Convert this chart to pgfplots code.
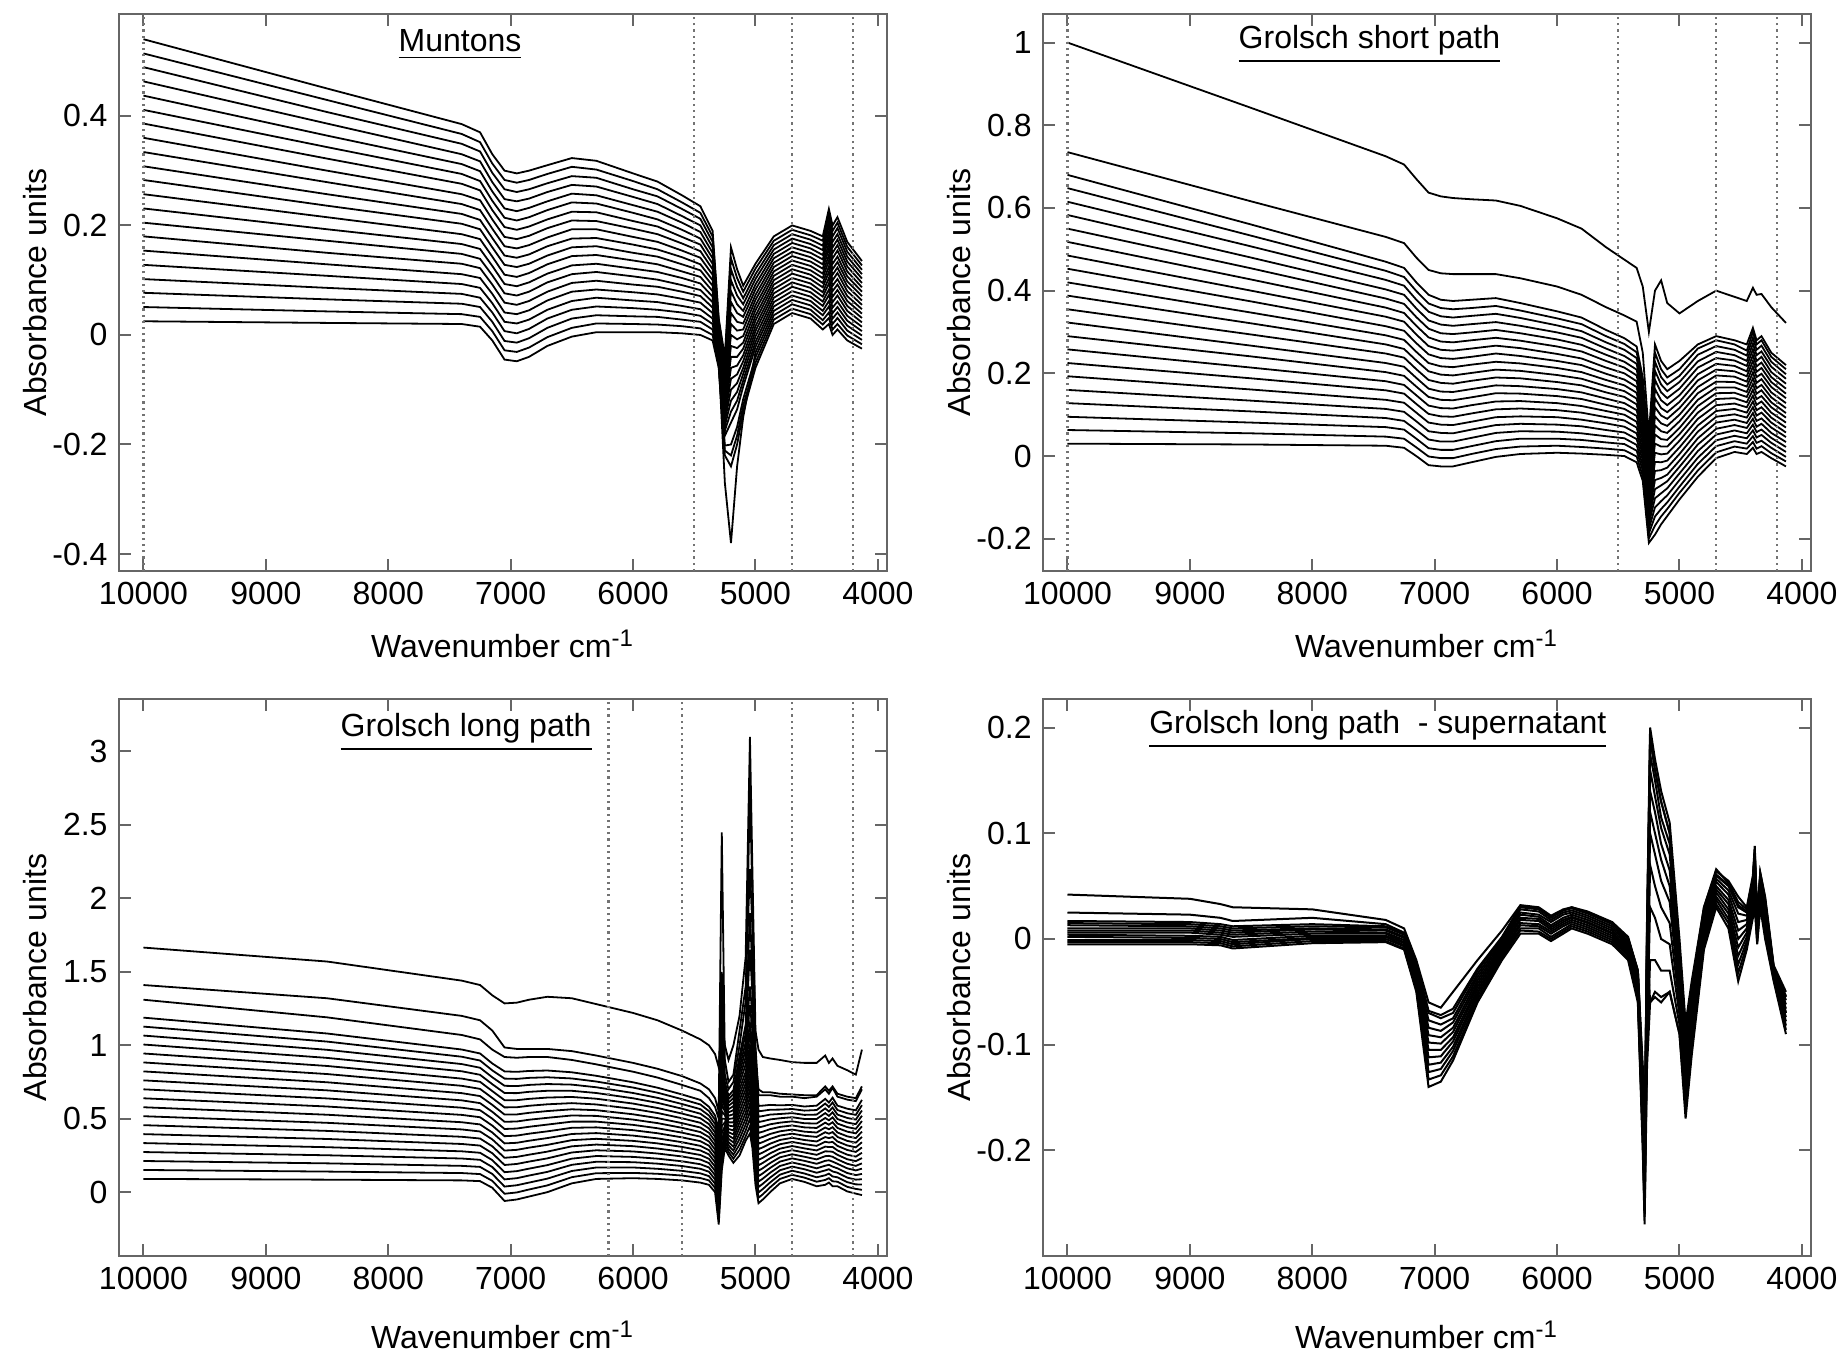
\documentclass[border=0pt]{standalone}
\usepackage{fontspec}
\setmainfont{Liberation Sans}
\usepackage{pgfplots}
\usepackage{pgfplotstable}
\pgfplotsset{compat=1.18}

% spectra, one column per sample; x = wavenumber (cm^-1)
\pgfplotstableread{
x w0 w05 w1 w15 w2 w3 w4 w5 w6 w7 w8 w9 w10
10000 0.025 0.051 0.077 0.102 0.128 0.180 0.231 0.283 0.334 0.386 0.437 0.489 0.540
8500 0.022 0.043 0.065 0.086 0.108 0.150 0.193 0.236 0.279 0.322 0.364 0.407 0.450
7400 0.020 0.038 0.057 0.075 0.093 0.130 0.166 0.203 0.239 0.276 0.312 0.349 0.385
7250 0.015 0.033 0.051 0.068 0.086 0.122 0.157 0.193 0.228 0.264 0.299 0.335 0.370
7150 -0.010 0.007 0.024 0.041 0.058 0.092 0.126 0.160 0.194 0.228 0.262 0.296 0.330
7050 -0.045 -0.028 -0.011 0.007 0.024 0.059 0.093 0.128 0.162 0.197 0.231 0.266 0.300
6950 -0.048 -0.031 -0.014 0.003 0.021 0.055 0.089 0.124 0.158 0.192 0.226 0.261 0.295
6850 -0.040 -0.023 -0.006 0.011 0.028 0.062 0.096 0.130 0.164 0.198 0.232 0.266 0.300
6700 -0.020 -0.004 0.013 0.030 0.046 0.079 0.112 0.145 0.178 0.211 0.244 0.277 0.310
6500 -0.003 0.013 0.030 0.046 0.062 0.095 0.127 0.160 0.193 0.225 0.258 0.290 0.323
6300 0.005 0.021 0.036 0.052 0.068 0.099 0.130 0.162 0.193 0.224 0.255 0.287 0.318
6000 0.005 0.020 0.034 0.049 0.063 0.092 0.121 0.150 0.179 0.208 0.237 0.266 0.295
5800 0.005 0.019 0.033 0.046 0.060 0.088 0.115 0.143 0.170 0.198 0.225 0.253 0.280
5600 0.003 0.016 0.028 0.041 0.053 0.079 0.104 0.129 0.154 0.179 0.205 0.230 0.255
5450 0.000 0.012 0.024 0.035 0.047 0.071 0.094 0.118 0.141 0.165 0.188 0.212 0.235
5350 -0.010 0.000 0.010 0.020 0.030 0.050 0.070 0.090 0.110 0.130 0.150 0.170 0.190
5300 -0.060 -0.056 -0.051 -0.047 -0.042 -0.033 -0.024 -0.015 -0.006 0.003 0.012 0.021 0.030
5250 -0.220 -0.211 -0.202 -0.270 -0.184 -0.166 -0.148 -0.130 -0.112 -0.094 -0.076 -0.058 -0.040
5200 -0.240 -0.220 -0.200 -0.380 -0.160 -0.120 -0.080 -0.040 0.000 0.040 0.080 0.120 0.160
5150 -0.200 -0.184 -0.168 -0.240 -0.136 -0.104 -0.072 -0.040 -0.008 0.024 0.056 0.088 0.120
5100 -0.140 -0.129 -0.117 -0.150 -0.094 -0.071 -0.048 -0.025 -0.002 0.021 0.044 0.067 0.090
5000 -0.060 -0.051 -0.041 -0.032 -0.022 -0.003 0.016 0.035 0.054 0.073 0.092 0.111 0.130
4850 0.020 0.028 0.036 0.044 0.052 0.068 0.084 0.100 0.116 0.132 0.148 0.164 0.180
4700 0.040 0.048 0.056 0.064 0.072 0.088 0.104 0.120 0.136 0.152 0.168 0.184 0.200
4550 0.030 0.038 0.046 0.054 0.062 0.078 0.094 0.110 0.126 0.142 0.158 0.174 0.190
4450 0.010 0.019 0.027 0.036 0.044 0.061 0.078 0.095 0.112 0.129 0.146 0.163 0.180
4400 0.020 0.031 0.041 0.052 0.062 0.083 0.104 0.125 0.146 0.167 0.188 0.209 0.230
4370 0.000 0.010 0.020 0.030 0.040 0.060 0.080 0.100 0.120 0.140 0.160 0.180 0.200
4330 0.010 0.020 0.031 0.041 0.051 0.072 0.092 0.113 0.133 0.154 0.174 0.195 0.215
4250 -0.010 -0.001 0.008 0.017 0.026 0.044 0.062 0.080 0.098 0.116 0.134 0.152 0.170
4130 -0.025 -0.017 -0.009 -0.001 0.007 0.023 0.039 0.055 0.071 0.087 0.103 0.119 0.135
}\muntons

\pgfplotstableread{
x m25 m35 m45 m55 m65 m75 m85 m95
10000 0.154 0.205 0.257 0.308 0.360 0.411 0.463 0.514
8500 0.129 0.172 0.215 0.257 0.300 0.343 0.386 0.429
7400 0.111 0.148 0.184 0.221 0.257 0.294 0.330 0.367
7250 0.104 0.139 0.175 0.210 0.246 0.281 0.317 0.352
7150 0.075 0.109 0.143 0.177 0.211 0.245 0.279 0.313
7050 0.041 0.076 0.110 0.145 0.179 0.214 0.248 0.283
6950 0.038 0.072 0.106 0.141 0.175 0.209 0.244 0.278
6850 0.045 0.079 0.113 0.147 0.181 0.215 0.249 0.283
6700 0.063 0.096 0.129 0.162 0.195 0.228 0.261 0.294
6500 0.079 0.111 0.144 0.176 0.209 0.242 0.274 0.307
6300 0.083 0.115 0.146 0.177 0.208 0.240 0.271 0.302
6000 0.078 0.107 0.136 0.165 0.194 0.223 0.252 0.281
5800 0.074 0.101 0.129 0.156 0.184 0.211 0.239 0.266
5600 0.066 0.091 0.116 0.142 0.167 0.192 0.217 0.242
5450 0.059 0.082 0.106 0.129 0.153 0.176 0.200 0.223
5350 0.040 0.060 0.080 0.100 0.120 0.140 0.160 0.180
5300 -0.038 -0.029 -0.020 -0.011 -0.002 0.008 0.017 0.026
5250 -0.175 -0.157 -0.139 -0.121 -0.103 -0.085 -0.067 -0.049
5200 -0.140 -0.100 -0.060 -0.020 0.020 0.060 0.100 0.140
5150 -0.120 -0.088 -0.056 -0.024 0.008 0.040 0.072 0.104
5100 -0.083 -0.060 -0.037 -0.014 0.010 0.033 0.056 0.079
5000 -0.013 0.007 0.026 0.045 0.064 0.083 0.102 0.121
4850 0.060 0.076 0.092 0.108 0.124 0.140 0.156 0.172
4700 0.080 0.096 0.112 0.128 0.144 0.160 0.176 0.192
4550 0.070 0.086 0.102 0.118 0.134 0.150 0.166 0.182
4450 0.053 0.070 0.087 0.104 0.121 0.138 0.155 0.172
4400 0.073 0.094 0.115 0.136 0.157 0.178 0.199 0.220
4370 0.050 0.070 0.090 0.110 0.130 0.150 0.170 0.190
4330 0.061 0.082 0.102 0.123 0.143 0.164 0.184 0.205
4250 0.035 0.053 0.071 0.089 0.107 0.125 0.143 0.161
4130 0.015 0.031 0.047 0.063 0.079 0.095 0.111 0.127
}\muntonsB

\pgfplotstableread{
x w0 w05 w1 w15 w2 w3 w4 w5 w6 w7 w8 w9 w10 o1 o2
10000 0.030 0.063 0.095 0.128 0.160 0.225 0.290 0.355 0.420 0.485 0.550 0.615 0.680 1.000 0.735
8500 0.028 0.055 0.081 0.108 0.134 0.188 0.241 0.294 0.347 0.400 0.454 0.507 0.560 0.842 0.616
7400 0.025 0.047 0.070 0.092 0.114 0.159 0.203 0.248 0.292 0.337 0.381 0.426 0.470 0.725 0.530
7250 0.020 0.042 0.064 0.085 0.107 0.151 0.194 0.238 0.281 0.325 0.368 0.412 0.455 0.705 0.515
7150 0.000 0.021 0.042 0.063 0.084 0.126 0.168 0.210 0.252 0.294 0.336 0.378 0.420 0.670 0.480
7050 -0.022 -0.001 0.019 0.040 0.060 0.102 0.143 0.184 0.225 0.266 0.308 0.349 0.390 0.637 0.450
6950 -0.025 -0.005 0.015 0.035 0.056 0.096 0.136 0.177 0.217 0.257 0.297 0.338 0.378 0.628 0.442
6850 -0.025 -0.005 0.015 0.035 0.055 0.095 0.135 0.175 0.215 0.255 0.295 0.335 0.375 0.624 0.440
6700 -0.015 0.005 0.024 0.044 0.064 0.103 0.142 0.182 0.221 0.260 0.299 0.339 0.378 0.621 0.440
6500 -0.002 0.017 0.036 0.056 0.075 0.113 0.152 0.190 0.228 0.267 0.305 0.344 0.382 0.618 0.440
6300 0.005 0.023 0.042 0.060 0.078 0.115 0.151 0.188 0.224 0.261 0.297 0.334 0.370 0.605 0.430
6000 0.008 0.025 0.042 0.059 0.076 0.111 0.145 0.179 0.213 0.247 0.282 0.316 0.350 0.575 0.410
5800 0.006 0.022 0.039 0.055 0.072 0.105 0.138 0.171 0.203 0.236 0.269 0.302 0.335 0.550 0.390
5600 0.003 0.018 0.033 0.048 0.063 0.094 0.124 0.154 0.184 0.214 0.245 0.275 0.305 0.505 0.360
5450 0.000 0.014 0.029 0.043 0.057 0.086 0.114 0.143 0.171 0.200 0.228 0.257 0.285 0.475 0.340
5350 -0.015 -0.001 0.013 0.027 0.041 0.069 0.097 0.125 0.153 0.181 0.209 0.237 0.265 0.455 0.325
5300 -0.060 -0.048 -0.035 -0.023 -0.010 0.015 0.040 0.065 0.090 0.115 0.140 0.165 0.190 0.410 0.250
5250 -0.210 -0.199 -0.187 -0.176 -0.164 -0.141 -0.118 -0.095 -0.072 -0.049 -0.026 -0.003 0.020 0.300 0.050
5200 -0.190 -0.168 -0.146 -0.124 -0.102 -0.058 -0.014 0.030 0.074 0.118 0.162 0.206 0.250 0.400 0.270
5150 -0.165 -0.146 -0.128 -0.109 -0.090 -0.053 -0.015 0.023 0.060 0.098 0.135 0.173 0.210 0.425 0.230
5100 -0.145 -0.128 -0.112 -0.095 -0.078 -0.045 -0.011 0.023 0.056 0.090 0.123 0.157 0.190 0.370 0.210
5000 -0.105 -0.089 -0.074 -0.058 -0.042 -0.011 0.021 0.053 0.084 0.116 0.147 0.179 0.210 0.345 0.230
4850 -0.050 -0.035 -0.019 -0.004 0.012 0.043 0.074 0.105 0.136 0.167 0.198 0.229 0.260 0.375 0.270
4700 -0.005 0.009 0.024 0.038 0.052 0.081 0.109 0.138 0.166 0.195 0.223 0.252 0.280 0.400 0.290
4550 0.010 0.023 0.036 0.049 0.062 0.088 0.114 0.140 0.166 0.192 0.218 0.244 0.270 0.385 0.280
4450 0.005 0.018 0.030 0.043 0.055 0.080 0.105 0.130 0.155 0.180 0.205 0.230 0.255 0.375 0.270
4400 0.020 0.034 0.048 0.062 0.076 0.104 0.132 0.160 0.188 0.216 0.244 0.272 0.300 0.407 0.310
4370 0.005 0.018 0.032 0.045 0.058 0.085 0.111 0.138 0.164 0.191 0.217 0.244 0.270 0.390 0.280
4330 0.010 0.024 0.037 0.051 0.064 0.091 0.118 0.145 0.172 0.199 0.226 0.253 0.280 0.392 0.290
4250 -0.005 0.007 0.020 0.032 0.044 0.069 0.093 0.118 0.142 0.167 0.191 0.216 0.240 0.360 0.250
4130 -0.025 -0.013 -0.002 0.010 0.022 0.046 0.069 0.093 0.116 0.140 0.163 0.187 0.210 0.322 0.220
}\shortpath

\pgfplotstableread{
x m25 m35 m45 m55 m65 m75 m85 m95
10000 0.193 0.258 0.323 0.388 0.453 0.518 0.583 0.648
8500 0.161 0.214 0.267 0.321 0.374 0.427 0.480 0.533
7400 0.136 0.181 0.225 0.270 0.314 0.359 0.403 0.448
7250 0.129 0.172 0.216 0.259 0.303 0.346 0.390 0.433
7150 0.105 0.147 0.189 0.231 0.273 0.315 0.357 0.399
7050 0.081 0.122 0.163 0.205 0.246 0.287 0.328 0.369
6950 0.076 0.116 0.156 0.197 0.237 0.277 0.318 0.358
6850 0.075 0.115 0.155 0.195 0.235 0.275 0.315 0.355
6700 0.083 0.123 0.162 0.201 0.240 0.280 0.319 0.358
6500 0.094 0.132 0.171 0.209 0.248 0.286 0.324 0.363
6300 0.096 0.133 0.169 0.206 0.242 0.279 0.315 0.352
6000 0.094 0.128 0.162 0.196 0.230 0.265 0.299 0.333
5800 0.088 0.121 0.154 0.187 0.220 0.253 0.286 0.319
5600 0.079 0.109 0.139 0.169 0.199 0.230 0.260 0.290
5450 0.071 0.100 0.128 0.157 0.185 0.214 0.242 0.271
5350 0.055 0.083 0.111 0.139 0.167 0.195 0.223 0.251
5300 0.003 0.028 0.053 0.078 0.103 0.128 0.153 0.178
5250 -0.153 -0.130 -0.107 -0.084 -0.061 -0.038 -0.015 0.009
5200 -0.080 -0.036 0.008 0.052 0.096 0.140 0.184 0.228
5150 -0.071 -0.034 0.004 0.041 0.079 0.116 0.154 0.191
5100 -0.061 -0.028 0.006 0.039 0.073 0.106 0.140 0.173
5000 -0.026 0.005 0.037 0.068 0.100 0.131 0.163 0.194
4850 0.028 0.059 0.090 0.121 0.152 0.183 0.214 0.245
4700 0.066 0.095 0.123 0.152 0.180 0.209 0.237 0.266
4550 0.075 0.101 0.127 0.153 0.179 0.205 0.231 0.257
4450 0.068 0.093 0.118 0.143 0.168 0.193 0.218 0.243
4400 0.090 0.118 0.146 0.174 0.202 0.230 0.258 0.286
4370 0.071 0.098 0.124 0.151 0.177 0.204 0.230 0.257
4330 0.078 0.105 0.132 0.159 0.186 0.213 0.240 0.267
4250 0.056 0.081 0.105 0.130 0.154 0.179 0.203 0.228
4130 0.034 0.057 0.081 0.104 0.128 0.151 0.175 0.198
}\shortpathB

\pgfplotstableread{
x w0 w05 w1 w2 w3 w4 w5 w6 w7 w8 w9 w10 o1 o2
10000 0.090 0.151 0.212 0.334 0.456 0.578 0.700 0.822 0.944 1.066 1.188 1.310 1.665 1.410
8500 0.085 0.140 0.196 0.306 0.417 0.527 0.638 0.748 0.859 0.969 1.080 1.190 1.570 1.320
7400 0.080 0.130 0.179 0.278 0.377 0.476 0.575 0.674 0.773 0.872 0.971 1.070 1.440 1.200
7250 0.075 0.123 0.172 0.268 0.365 0.461 0.558 0.654 0.751 0.847 0.944 1.040 1.410 1.170
7150 0.030 0.077 0.124 0.218 0.312 0.406 0.500 0.594 0.688 0.782 0.876 0.970 1.340 1.100
7050 -0.060 -0.011 0.038 0.136 0.234 0.332 0.430 0.528 0.626 0.724 0.822 0.920 1.285 0.985
6950 -0.050 -0.002 0.047 0.143 0.240 0.336 0.433 0.529 0.626 0.722 0.819 0.915 1.290 0.975
6850 -0.030 0.018 0.065 0.160 0.255 0.350 0.445 0.540 0.635 0.730 0.825 0.920 1.310 0.975
6700 0.000 0.046 0.092 0.184 0.276 0.368 0.460 0.552 0.644 0.736 0.828 0.920 1.330 0.975
6500 0.060 0.102 0.144 0.228 0.312 0.396 0.480 0.564 0.648 0.732 0.816 0.900 1.320 0.960
6300 0.090 0.129 0.168 0.246 0.324 0.402 0.480 0.558 0.636 0.714 0.792 0.870 1.280 0.930
6000 0.095 0.131 0.168 0.240 0.313 0.385 0.458 0.530 0.603 0.675 0.748 0.820 1.220 0.880
5800 0.090 0.125 0.159 0.228 0.297 0.366 0.435 0.504 0.573 0.642 0.711 0.780 1.170 0.840
5600 0.080 0.113 0.145 0.210 0.275 0.340 0.405 0.470 0.535 0.600 0.665 0.730 1.100 0.790
5450 0.065 0.096 0.128 0.190 0.253 0.315 0.378 0.440 0.503 0.565 0.628 0.690 1.040 0.740
5380 0.050 0.080 0.109 0.168 0.227 0.286 0.345 0.404 0.463 0.522 0.581 0.640 1.000 0.700
5330 0.000 0.029 0.058 0.116 0.174 0.232 0.290 0.348 0.406 0.464 0.522 0.580 0.940 0.640
5300 -0.220 -0.184 -0.148 -0.076 -0.004 0.068 0.140 0.212 0.284 0.356 0.428 0.500 0.850 0.550
5275 0.150 0.200 0.250 0.300 0.400 0.500 0.600 0.700 0.800 0.950 1.150 1.500 1.200 2.450
5250 0.300 0.325 0.350 0.400 0.450 0.500 0.550 0.600 0.650 0.700 0.750 0.800 1.000 0.900
5220 0.250 0.273 0.295 0.340 0.385 0.430 0.475 0.520 0.565 0.610 0.655 0.700 0.900 0.750
5180 0.200 0.228 0.255 0.310 0.365 0.420 0.475 0.530 0.585 0.640 0.695 0.750 1.000 0.800
5130 0.250 0.288 0.325 0.400 0.475 0.550 0.625 0.700 0.775 0.850 0.925 1.000 1.200 1.100
5080 0.350 0.380 0.420 0.500 0.580 0.660 0.740 0.820 0.920 1.020 1.140 1.300 1.600 1.400
5045 0.400 0.450 0.500 0.600 0.700 0.800 0.900 1.000 1.150 1.400 1.900 2.750 3.100 2.200
5025 0.300 0.350 0.400 0.500 0.600 0.700 0.800 0.900 1.000 1.200 1.500 2.000 2.200 1.800
5000 0.050 0.098 0.145 0.240 0.335 0.430 0.525 0.620 0.715 0.810 0.905 1.000 1.100 0.900
4975 -0.075 -0.038 -0.002 0.072 0.146 0.219 0.293 0.366 0.440 0.513 0.587 0.660 0.970 0.700
4940 -0.050 -0.015 0.021 0.092 0.163 0.234 0.305 0.376 0.447 0.518 0.589 0.660 0.920 0.680
4880 0.000 0.033 0.066 0.132 0.198 0.264 0.330 0.396 0.462 0.528 0.594 0.660 0.910 0.680
4800 0.060 0.090 0.119 0.178 0.237 0.296 0.355 0.414 0.473 0.532 0.591 0.650 0.900 0.670
4700 0.090 0.118 0.146 0.202 0.258 0.314 0.370 0.426 0.482 0.538 0.594 0.650 0.885 0.665
4600 0.070 0.099 0.127 0.184 0.241 0.298 0.355 0.412 0.469 0.526 0.583 0.640 0.880 0.660
4500 0.040 0.071 0.101 0.162 0.223 0.284 0.345 0.406 0.467 0.528 0.589 0.650 0.880 0.660
4430 0.050 0.083 0.115 0.180 0.245 0.310 0.375 0.440 0.505 0.570 0.635 0.700 0.930 0.720
4400 0.065 0.095 0.126 0.186 0.247 0.307 0.368 0.428 0.489 0.549 0.610 0.670 0.880 0.690
4370 0.040 0.074 0.107 0.174 0.241 0.308 0.375 0.442 0.509 0.576 0.643 0.710 0.910 0.720
4330 0.040 0.071 0.101 0.162 0.223 0.284 0.345 0.406 0.467 0.528 0.589 0.650 0.860 0.670
4250 0.005 0.036 0.068 0.130 0.193 0.255 0.318 0.380 0.443 0.505 0.568 0.630 0.830 0.650
4180 -0.010 0.022 0.053 0.116 0.179 0.242 0.305 0.368 0.431 0.494 0.557 0.620 0.800 0.640
4130 -0.020 0.016 0.052 0.124 0.196 0.268 0.340 0.412 0.484 0.556 0.628 0.700 0.970 0.720
}\longpath

\pgfplotstableread{
x m15 m25 m35 m45 m55 m65 m75 m85
10000 0.273 0.395 0.517 0.639 0.761 0.883 1.005 1.127
8500 0.251 0.362 0.472 0.583 0.693 0.804 0.914 1.025
7400 0.229 0.328 0.427 0.526 0.625 0.724 0.823 0.922
7250 0.220 0.317 0.413 0.510 0.606 0.703 0.799 0.896
7150 0.171 0.265 0.359 0.453 0.547 0.641 0.735 0.829
7050 0.087 0.185 0.283 0.381 0.479 0.577 0.675 0.773
6950 0.095 0.192 0.288 0.385 0.481 0.578 0.674 0.771
6850 0.113 0.208 0.303 0.398 0.493 0.588 0.683 0.778
6700 0.138 0.230 0.322 0.414 0.506 0.598 0.690 0.782
6500 0.186 0.270 0.354 0.438 0.522 0.606 0.690 0.774
6300 0.207 0.285 0.363 0.441 0.519 0.597 0.675 0.753
6000 0.204 0.277 0.349 0.422 0.494 0.567 0.639 0.712
5800 0.194 0.263 0.332 0.401 0.470 0.539 0.608 0.677
5600 0.178 0.243 0.308 0.373 0.438 0.503 0.568 0.633
5450 0.159 0.222 0.284 0.347 0.409 0.472 0.534 0.597
5380 0.139 0.198 0.257 0.316 0.375 0.434 0.493 0.552
5330 0.087 0.145 0.203 0.261 0.319 0.377 0.435 0.493
5300 -0.112 -0.040 0.032 0.104 0.176 0.248 0.320 0.392
5275 0.275 0.350 0.450 0.550 0.650 0.750 0.875 1.050
5250 0.375 0.425 0.475 0.525 0.575 0.625 0.675 0.725
5220 0.318 0.363 0.408 0.453 0.498 0.543 0.588 0.633
5180 0.283 0.338 0.393 0.448 0.503 0.558 0.613 0.668
5130 0.363 0.438 0.513 0.588 0.663 0.738 0.813 0.888
5080 0.460 0.540 0.620 0.700 0.780 0.870 0.970 1.080
5045 0.550 0.650 0.750 0.850 0.950 1.075 1.275 1.650
5025 0.450 0.550 0.650 0.750 0.850 0.950 1.100 1.350
5000 0.193 0.288 0.383 0.478 0.573 0.668 0.763 0.858
4975 0.035 0.109 0.183 0.256 0.330 0.403 0.477 0.550
4940 0.057 0.128 0.199 0.270 0.341 0.412 0.483 0.554
4880 0.099 0.165 0.231 0.297 0.363 0.429 0.495 0.561
4800 0.149 0.208 0.267 0.326 0.385 0.444 0.503 0.562
4700 0.174 0.230 0.286 0.342 0.398 0.454 0.510 0.566
4600 0.156 0.213 0.270 0.327 0.384 0.441 0.498 0.555
4500 0.132 0.193 0.254 0.315 0.376 0.437 0.498 0.559
4430 0.148 0.213 0.278 0.343 0.408 0.473 0.538 0.603
4400 0.156 0.217 0.277 0.338 0.398 0.459 0.519 0.580
4370 0.141 0.208 0.275 0.342 0.409 0.476 0.543 0.610
4330 0.132 0.193 0.254 0.315 0.376 0.437 0.498 0.559
4250 0.099 0.162 0.224 0.287 0.349 0.412 0.474 0.537
4180 0.085 0.148 0.211 0.274 0.337 0.400 0.463 0.526
4130 0.088 0.160 0.232 0.304 0.376 0.448 0.520 0.592
}\longpathB

\pgfplotstableread{
x w0 w1 w2 w3 w4 w5 w6 w7 w8 w9 w10 o1 o2
10000 -0.005 -0.003 -0.001 0.002 0.004 0.006 0.008 0.010 0.013 0.015 0.017 0.042 0.025
9000 -0.005 -0.003 -0.001 0.001 0.003 0.006 0.008 0.010 0.012 0.014 0.016 0.038 0.023
8750 -0.006 -0.004 -0.002 0.000 0.002 0.004 0.006 0.008 0.010 0.012 0.014 0.033 0.020
8650 -0.009 -0.007 -0.005 -0.003 -0.001 0.002 0.004 0.006 0.008 0.010 0.012 0.030 0.017
8000 -0.004 -0.002 0.000 0.001 0.003 0.005 0.007 0.009 0.010 0.012 0.014 0.028 0.020
7400 -0.003 -0.002 0.000 0.002 0.003 0.005 0.006 0.008 0.009 0.011 0.012 0.018 0.014
7250 -0.010 -0.009 -0.007 -0.006 -0.004 -0.003 -0.001 0.001 0.002 0.004 0.005 0.010 0.006
7150 -0.050 -0.048 -0.045 -0.043 -0.040 -0.038 -0.035 -0.033 -0.030 -0.028 -0.025 -0.020 -0.022
7050 -0.140 -0.133 -0.126 -0.119 -0.112 -0.105 -0.098 -0.091 -0.084 -0.077 -0.070 -0.060 -0.068
6950 -0.135 -0.129 -0.123 -0.117 -0.111 -0.105 -0.099 -0.093 -0.087 -0.081 -0.075 -0.065 -0.072
6850 -0.115 -0.111 -0.106 -0.102 -0.097 -0.093 -0.088 -0.084 -0.079 -0.075 -0.070 -0.050 -0.066
6650 -0.060 -0.057 -0.054 -0.051 -0.048 -0.045 -0.042 -0.039 -0.036 -0.033 -0.030 -0.020 -0.028
6450 -0.020 -0.018 -0.016 -0.014 -0.012 -0.010 -0.008 -0.006 -0.004 -0.002 0.000 0.008 0.002
6300 0.005 0.008 0.010 0.013 0.015 0.018 0.020 0.023 0.025 0.028 0.030 0.032 0.031
6150 0.005 0.007 0.010 0.012 0.014 0.017 0.019 0.021 0.023 0.026 0.028 0.030 0.029
6050 -0.002 0.000 0.002 0.005 0.007 0.009 0.011 0.013 0.016 0.018 0.020 0.022 0.021
5950 0.005 0.007 0.009 0.012 0.014 0.016 0.018 0.020 0.023 0.025 0.027 0.028 0.027
5880 0.010 0.012 0.014 0.016 0.018 0.020 0.021 0.023 0.025 0.027 0.029 0.030 0.030
5750 0.005 0.007 0.009 0.011 0.013 0.015 0.016 0.018 0.020 0.022 0.024 0.026 0.025
5550 -0.005 -0.003 -0.001 0.001 0.003 0.005 0.006 0.008 0.010 0.012 0.014 0.016 0.015
5420 -0.020 -0.018 -0.016 -0.014 -0.012 -0.010 -0.008 -0.006 -0.004 -0.002 0.000 0.002 0.001
5340 -0.060 -0.057 -0.054 -0.051 -0.048 -0.045 -0.042 -0.039 -0.036 -0.033 -0.030 -0.030 -0.030
5300 -0.200 -0.193 -0.186 -0.179 -0.172 -0.165 -0.158 -0.151 -0.144 -0.137 -0.130 -0.120 -0.130
5285 -0.270 -0.263 -0.256 -0.249 -0.242 -0.235 -0.228 -0.221 -0.214 -0.207 -0.200 -0.190 -0.210
5265 -0.120 -0.106 -0.092 -0.078 -0.064 -0.050 -0.036 -0.022 -0.008 0.006 0.020 0.000 0.010
5240 -0.060 -0.020 0.030 0.070 0.100 0.120 0.140 0.160 0.175 0.190 0.200 -0.060 0.190
5200 -0.050 -0.020 0.020 0.050 0.080 0.100 0.120 0.135 0.150 0.160 0.170 -0.055 0.160
5150 -0.055 -0.030 0.000 0.030 0.055 0.075 0.090 0.105 0.115 0.130 0.140 -0.060 0.130
5080 -0.050 -0.030 -0.005 0.015 0.035 0.050 0.065 0.080 0.090 0.100 0.110 -0.050 0.100
5000 -0.090 -0.081 -0.072 -0.063 -0.054 -0.045 -0.036 -0.027 -0.018 -0.009 0.000 -0.090 -0.010
4950 -0.170 -0.161 -0.152 -0.143 -0.134 -0.125 -0.116 -0.107 -0.098 -0.089 -0.080 -0.160 -0.085
4900 -0.110 -0.103 -0.096 -0.089 -0.082 -0.075 -0.068 -0.061 -0.054 -0.047 -0.040 -0.100 -0.045
4800 -0.010 -0.006 -0.002 0.002 0.006 0.010 0.014 0.018 0.022 0.026 0.030 0.020 0.030
4700 0.030 0.033 0.037 0.040 0.044 0.047 0.050 0.054 0.057 0.061 0.064 0.060 0.066
4600 0.010 0.015 0.019 0.024 0.028 0.033 0.037 0.042 0.046 0.051 0.055 0.050 0.053
4520 -0.040 -0.032 -0.024 -0.016 -0.008 0.000 0.008 0.016 0.024 0.032 0.040 0.030 0.035
4450 -0.010 -0.006 -0.002 0.002 0.006 0.010 0.014 0.018 0.022 0.026 0.030 0.025 0.028
4400 0.020 0.024 0.028 0.032 0.036 0.040 0.044 0.048 0.052 0.056 0.060 0.055 0.058
4385 0.030 0.036 0.042 0.047 0.053 0.059 0.065 0.071 0.076 0.082 0.088 0.080 0.085
4365 -0.005 -0.003 0.000 0.003 0.005 0.008 0.010 0.013 0.015 0.018 0.020 0.020 0.018
4340 0.030 0.033 0.037 0.040 0.043 0.047 0.050 0.053 0.056 0.060 0.063 0.060 0.062
4300 0.000 0.004 0.008 0.012 0.016 0.020 0.024 0.028 0.032 0.036 0.040 0.035 0.038
4230 -0.040 -0.039 -0.037 -0.036 -0.034 -0.033 -0.031 -0.030 -0.028 -0.027 -0.025 -0.030 -0.027
4170 -0.070 -0.067 -0.064 -0.061 -0.058 -0.055 -0.052 -0.049 -0.046 -0.043 -0.040 -0.050 -0.045
4130 -0.090 -0.086 -0.082 -0.078 -0.074 -0.070 -0.066 -0.062 -0.058 -0.054 -0.050 -0.070 -0.055
}\supernatant

\pgfplotsset{
  spec/.style={
    scale only axis, width=192pt, height=139.25pt,
    x dir=reverse, xmin=3925, xmax=10200,
    xtick={4000,5000,...,10000},
    scaled x ticks=false, scaled y ticks=false,
    /pgf/number format/1000 sep={},
    /pgf/number format/assume math mode=true,
    tick align=inside, major tick length=3pt,
    axis line style={black!60, line width=0.6pt},
    every tick/.style={black!60, line width=0.5pt},
    xlabel={Wavenumber cm\textsuperscript{-1}},
    ylabel={Absorbance units},
    ylabel style={at={(axis description cs:-0.109,0.5)}, anchor=center},
    xlabel style={at={(axis description cs:0.5,-0.131)}, anchor=center},
  },
  sline/.style={black, line width=0.45pt, no markers},
  vline/.style={black!55, densely dotted, line width=0.55pt, forget plot},
}

\begin{document}
\fontsize{8}{9.6}\selectfont
\begin{tikzpicture}
\path[use as bounding box] (0,0) rectangle (461.75pt,-338.25pt);

% Muntons
\begin{axis}[spec, at={(29.75pt,-3.5pt)}, anchor=north west,
  ymin=-0.431, ymax=0.586, ytick={-0.4,-0.2,0,0.2,0.4}]
\pgfplotsinvokeforeach{w0,w05,w1,w15,w2,w3,w4,w5,w6,w7,w8,w9,w10}{
  \addplot[sline] table[x=x, y=#1] {\muntons};
}
\pgfplotsinvokeforeach{m25,m35,m45,m55,m65,m75,m85,m95}{
  \addplot[sline] table[x=x, y=#1] {\muntonsB};
}
\addplot[vline] coordinates {(10000,-0.431) (10000,0.586)};
\addplot[vline] coordinates {(5500,-0.431) (5500,0.586)};
\addplot[vline] coordinates {(4700,-0.431) (4700,0.586)};
\addplot[vline] coordinates {(4200,-0.431) (4200,0.586)};
\node at (axis description cs:0.444,0.945) {\underline{Muntons}};
\end{axis}

% Grolsch short path
\begin{axis}[spec, at={(260.75pt,-3.5pt)}, anchor=north west,
  ymin=-0.278, ymax=1.069, ytick={-0.2,0,0.2,0.4,0.6,0.8,1}]
\pgfplotsinvokeforeach{w0,w05,w1,w15,w2,w3,w4,w5,w6,w7,w8,w9,w10,o1,o2}{
  \addplot[sline] table[x=x, y=#1] {\shortpath};
}
\pgfplotsinvokeforeach{m25,m35,m45,m55,m65,m75,m85,m95}{
  \addplot[sline] table[x=x, y=#1] {\shortpathB};
}
\addplot[vline] coordinates {(10000,-0.278) (10000,1.069)};
\addplot[vline] coordinates {(5500,-0.278) (5500,1.069)};
\addplot[vline] coordinates {(4700,-0.278) (4700,1.069)};
\addplot[vline] coordinates {(4200,-0.278) (4200,1.069)};
\node at (axis description cs:0.425,0.945) {\underline{Grolsch short path}};
\end{axis}

% Grolsch long path
\begin{axis}[spec, at={(29.75pt,-174.75pt)}, anchor=north west,
  xlabel style={at={(axis description cs:0.5,-0.142)}},
  ymin=-0.435, ymax=3.357, ytick={0,0.5,1,1.5,2,2.5,3}]
\pgfplotsinvokeforeach{w0,w05,w1,w2,w3,w4,w5,w6,w7,w8,w9,w10,o1,o2}{
  \addplot[sline] table[x=x, y=#1] {\longpath};
}
\pgfplotsinvokeforeach{m15,m25,m35,m45,m55,m65,m75,m85}{
  \addplot[sline] table[x=x, y=#1] {\longpathB};
}
\addplot[vline] coordinates {(6200,-0.435) (6200,3.357)};
\addplot[vline] coordinates {(5600,-0.435) (5600,3.357)};
\addplot[vline] coordinates {(4700,-0.435) (4700,3.357)};
\addplot[vline] coordinates {(4200,-0.435) (4200,3.357)};
\node at (axis description cs:0.452,0.94) {\underline{Grolsch long path}};
\end{axis}

% Grolsch long path - supernatant
\begin{axis}[spec, at={(260.75pt,-174.75pt)}, anchor=north west,
  xlabel style={at={(axis description cs:0.5,-0.142)}},
  ymin=-0.300, ymax=0.227, ytick={-0.2,-0.1,0,0.1,0.2}]
\pgfplotsinvokeforeach{w0,w1,w2,w3,w4,w5,w6,w7,w8,w9,w10,o1,o2}{
  \addplot[sline, line width=0.5pt] table[x=x, y=#1] {\supernatant};
}
\node at (axis description cs:0.436,0.945) {\underline{Grolsch long path\ \ - supernatant}};
\end{axis}
\end{tikzpicture}
\end{document}
